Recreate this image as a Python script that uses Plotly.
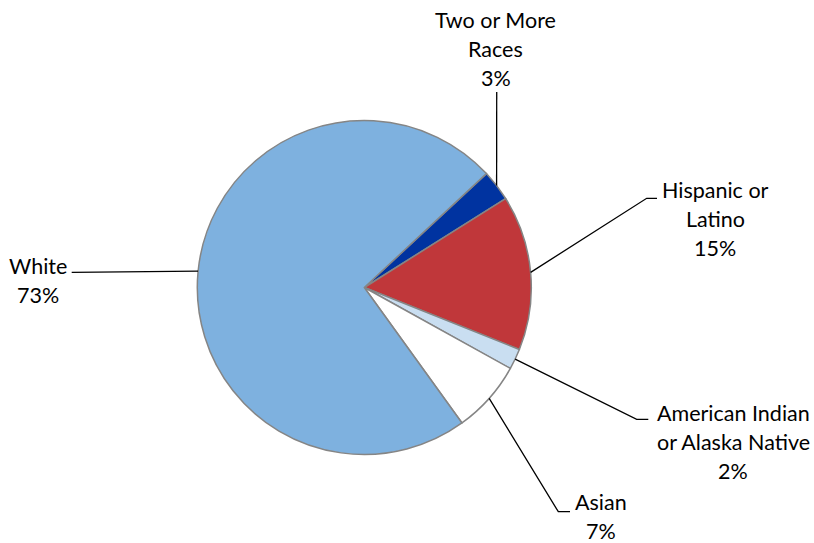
import math
import plotly.graph_objects as go

# ---- data ----
categories = ["Two or More Races", "Hispanic or Latino", "American Indian or Alaska Native", "Asian", "White"]
values = [3, 15, 2, 7, 73]
label_lines = [
    ["Two or More", "Races", "3%"],
    ["Hispanic or", "Latino", "15%"],
    ["American Indian", "or Alaska Native", "2%"],
    ["Asian", "7%"],
    ["White", "73%"],
]
colors = ["#0033A0", "#C0373A", "#C9DEF1", "#FFFFFF", "#7EB1DF"]

# ---- layout constants (pixels) ----
W, H = 814, 543
CX, CY, R = 364.3, 287.5, 167.0
ROTATION = 47.0
FONT = "Lato, Open Sans, sans-serif"
FS = 21.5
LINE_GAP = 29.0
# per label: (elbow point or None, end point of leader, label center x, first line center y)
label_layout = [
    (None, (496.7, 92.0), 495.5, 20.0),
    ((646.7, 198.3), (657.0, 198.3), 715.0, 190.0),
    ((636.7, 419.3), (648.3, 419.3), 733.0, 413.3),
    ((558.3, 511.7), (570.0, 511.7), 600.5, 502.0),
    (None, (71.7, 272.3), 38.0, 266.0),
]

def px(x):
    return x / W

def py(y):
    return 1 - y / H

fig = go.Figure(go.Pie(
    labels=categories,
    values=values,
    sort=False,
    direction="clockwise",
    rotation=ROTATION,
    marker=dict(colors=colors, line=dict(color="#858585", width=1.5)),
    textinfo="none",
    hoverinfo="label+percent",
    showlegend=False,
    domain=dict(x=[px(CX - R), px(CX + R)], y=[py(CY + R), py(CY - R)]),
))

total = sum(values)
cum = 0.0
shapes = []
annotations = []
for v, lines, (elbow, end, lx, ly) in zip(values, label_lines, label_layout):
    mid = ROTATION + 360.0 * (cum + v / 2) / total
    cum += v
    a = math.radians(mid)
    sx = CX + R * math.sin(a)
    sy = CY - R * math.cos(a)
    pts = [(sx, sy)]
    if elbow is not None:
        pts.append(elbow)
    pts.append(end)
    path = "M " + " L ".join(f"{px(x):.5f},{py(y):.5f}" for x, y in pts)
    shapes.append(dict(type="path", xref="paper", yref="paper", path=path,
                       line=dict(color="black", width=1.3)))
    for i, t in enumerate(lines):
        annotations.append(dict(
            x=px(lx), y=py(ly + i * LINE_GAP), xref="paper", yref="paper",
            text=t, showarrow=False, xanchor="center", yanchor="middle",
            font=dict(family=FONT, size=FS, color="black"),
        ))

fig.update_layout(
    width=W, height=H,
    margin=dict(l=0, r=0, t=0, b=0),
    paper_bgcolor="white",
    plot_bgcolor="white",
    shapes=shapes,
    annotations=annotations,
)

fig.write_html("out.html")
